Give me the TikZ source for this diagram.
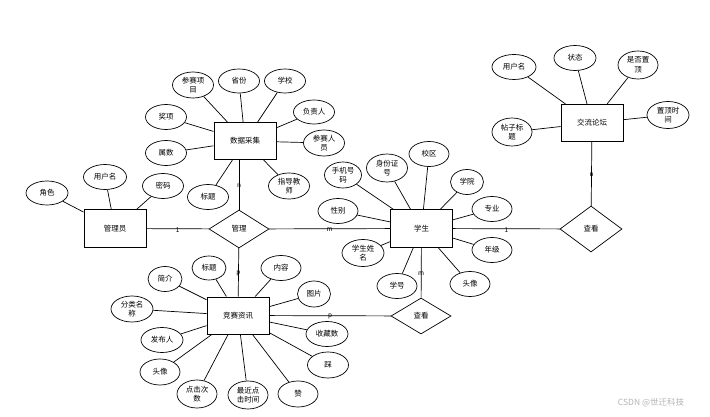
\documentclass[tikz,border=0pt]{standalone}
\usepackage{fontspec}
\newfontfamily\cjk{Noto Sans CJK SC}
\usetikzlibrary{shapes.geometric}
\begin{document}
\begin{tikzpicture}[x=1pt,y=-1pt,
  font=\cjk\fontsize{7.5}{9.5}\selectfont,
  ent/.style={draw, line width=1pt, rectangle, minimum width=62pt, minimum height=37pt, inner sep=0pt},
  attr/.style={draw, ellipse, line width=0.7pt, minimum width=40pt, minimum height=25pt, inner sep=0pt, align=center},
  rel/.style={draw, diamond, line width=0.7pt, minimum width=60pt, minimum height=38pt, inner sep=0pt},
  con/.style={line width=0.7pt},
  lab/.style={font=\cjk\fontsize{6.5}{7}\selectfont, inner sep=0pt, yshift=-1pt}
]
\useasboundingbox (0,0) rectangle (710,417);

% entities
\node[ent] (sj) at (245,141) {数据采集};
\node[ent] (ad) at (115,228.5) {管理员};
\node[ent] (xs) at (421.5,228.5) {学生};
\node[ent] (jl) at (592,123) {交流论坛};
\node[ent] (zx) at (238,315.5) {竞赛资讯};

% relations
\node[rel] (gl) at (239,229) {管理};
\node[rel, minimum width=62pt, minimum height=46pt] (ck1) at (591,229) {查看};
\node[rel, minimum height=36pt] (ck2) at (421,316) {查看};

% 数据采集 attributes
\node[attr, minimum width=41pt, minimum height=26pt] (s1) at (193,85) {参赛项\\目};
\node[attr, minimum width=41pt, minimum height=24pt] (s2) at (239,81) {省份};
\node[attr, minimum width=41pt, minimum height=24pt] (s3) at (285,81) {学校};
\node[attr, minimum width=41pt, minimum height=24pt] (s4) at (314,112) {负责人};
\node[attr, minimum width=41pt, minimum height=26pt] (s5) at (324,143) {参赛人\\员};
\node[attr, minimum width=41pt, minimum height=26pt] (s6) at (289,186) {指导教\\师};
\node[attr, minimum width=41pt, minimum height=25pt] (s7) at (208,197) {标题};
\node[attr, minimum width=41pt, minimum height=25pt] (s8) at (166,153) {属数};
\node[attr, minimum width=41pt, minimum height=25pt] (s9) at (166,117) {奖项};
\foreach \n in {s1,s2,s3,s4,s5,s6,s7,s8,s9} \draw[con] (\n) -- (sj);

% 管理员 attributes
\node[attr, minimum width=42pt, minimum height=24pt] (d1) at (47,193) {角色};
\node[attr, minimum width=43pt, minimum height=25pt] (d2) at (105,177) {用户名};
\node[attr, minimum width=41pt, minimum height=25pt] (d3) at (163,186) {密码};
\foreach \n in {d1,d2,d3} \draw[con] (\n) -- (ad);

% 学生 attributes
\node[attr, minimum width=37pt, minimum height=26pt] (x1) at (343,175) {手机号\\码};
\node[attr, minimum width=41pt, minimum height=28pt] (x2) at (387,168) {身份证\\号};
\node[attr, minimum width=40pt, minimum height=25pt] (x3) at (429,154) {校区};
\node[attr, minimum width=33pt, minimum height=25pt] (x4) at (467,182) {学院};
\node[attr, minimum width=40pt, minimum height=25pt] (x5) at (492,209) {专业};
\node[attr, minimum width=40pt, minimum height=25pt] (x6) at (492,250) {年级};
\node[attr, minimum width=40pt, minimum height=25pt] (x7) at (470,284) {头像};
\node[attr, minimum width=40pt, minimum height=25pt] (x8) at (397,286) {学号};
\node[attr, minimum width=42pt, minimum height=27pt] (x9) at (363,253) {学生姓\\名};
\node[attr, minimum width=40pt, minimum height=25pt] (x10) at (338,211) {性别};
\foreach \n in {x1,x2,x3,x4,x5,x6,x7,x8,x9,x10} \draw[con] (\n) -- (xs);

% 交流论坛 attributes
\node[attr, minimum width=44pt, minimum height=25pt] (j1) at (514,67) {用户名};
\node[attr, minimum width=42pt, minimum height=25pt] (j2) at (575,58) {状态};
\node[attr, minimum width=40pt, minimum height=28pt] (j3) at (638,65) {是否置\\顶};
\node[attr, minimum width=42pt, minimum height=27pt] (j4) at (668,115) {置顶时\\间};
\node[attr, minimum width=40pt, minimum height=28pt] (j5) at (512,132) {帖子标\\题};
\foreach \n in {j1,j2,j3,j4,j5} \draw[con] (\n) -- (jl);

% 竞赛资讯 attributes
\node[attr, minimum width=34pt, minimum height=25pt] (z1) at (165,279) {简介};
\node[attr, minimum width=34pt, minimum height=24pt] (z2) at (209,268) {标题};
\node[attr, minimum width=40pt, minimum height=25pt] (z3) at (281,268) {内容};
\node[attr, minimum width=33pt, minimum height=26pt] (z4) at (314,294) {图片};
\node[attr, minimum width=42pt, minimum height=25pt] (z5) at (327,334) {收藏数};
\node[attr, minimum width=41pt, minimum height=26pt] (z6) at (328,365) {踩};
\node[attr, minimum width=40pt, minimum height=26pt] (z7) at (298,394) {赞};
\node[attr, minimum width=40pt, minimum height=28pt] (z8) at (248,395) {最近点\\击时间};
\node[attr, minimum width=40pt, minimum height=28pt] (z9) at (197,394) {点击次\\数};
\node[attr, minimum width=40pt, minimum height=26pt] (z10) at (160,372) {头像};
\node[attr, minimum width=42pt, minimum height=25pt] (z11) at (162,340) {发布人};
\node[attr, minimum width=42pt, minimum height=26pt] (z12) at (132,309) {分类名\\称};
\foreach \n in {z1,z2,z3,z4,z5,z6,z7,z8,z9,z10,z11,z12} \draw[con] (\n) -- (zx);

% relationship connectors
\draw[con] (ad) -- node[lab] {1} (gl);
\draw[con] (gl) -- node[lab] {m} (xs);
\draw[con] (gl.north |- sj.south) -- node[lab] {n} (gl.north);
\draw[con] (gl) -- node[lab] {p} (zx);
\draw[con] (xs) -- node[lab] {1} (ck1);
\draw[con] (ck1) -- node[lab] {n} (jl);
\draw[con] (xs) -- node[lab] {m} (ck2);
\draw[con] (zx) -- node[lab] {p} (ck2);

% watermark
\node[font=\cjk\fontsize{8.5}{10}\selectfont, text=black!30] (wm) at (651,403) {CSDN @世迁科技};
\end{tikzpicture}
\end{document}
